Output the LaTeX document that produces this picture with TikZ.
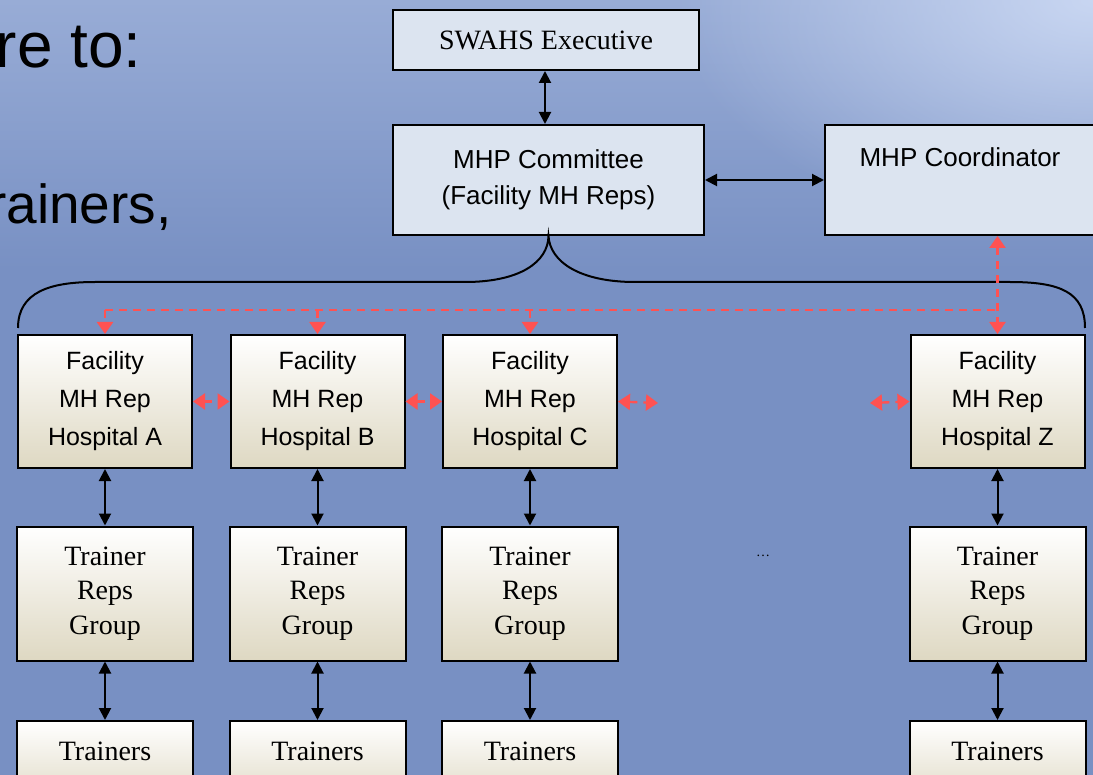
\documentclass[tikz,border=0pt]{standalone}
\usepackage{fontspec}
\setmainfont{Liberation Serif}
\newfontfamily\uisans{Liberation Sans}
\usetikzlibrary{arrows.meta,fadings}

\definecolor{bgmain}{RGB}{120,144,195}
\definecolor{bgtop}{RGB}{152,172,214}
\definecolor{glowc}{RGB}{206,219,245}
\definecolor{topfill}{RGB}{220,228,240}
\definecolor{beige}{RGB}{222,216,194}
\definecolor{linkred}{RGB}{255,82,82}

\tikzfading[name=glowfade, inner color=transparent!10, outer color=transparent!100]

\begin{document}
\begin{tikzpicture}[x=0.5pt,y=-0.5pt,
  frame/.style={draw=black, line width=1pt, inner sep=0pt},
  topbox/.style={frame, fill=topfill, align=center,
    font=\uisans\fontsize{13}{18}\selectfont},
  repbox/.style={frame, top color=white, bottom color=beige, align=center,
    minimum width=87pt, minimum height=66.5pt,
    font=\uisans\fontsize{12.5}{19}\selectfont},
  grpbox/.style={frame, top color=white, bottom color=beige, align=center,
    minimum width=88pt, minimum height=67pt,
    font=\fontsize{14}{17.3}\selectfont},
  trnbox/.style={frame, top color=white, bottom color=beige!70!white, align=center,
    minimum width=88pt, minimum height=30pt,
    font=\fontsize{14}{17}\selectfont},
  link/.style={draw=black, line width=1pt,
    {Triangle[width=6pt,length=6pt]}-{Triangle[width=6pt,length=6pt]}},
  redlink/.style={draw=linkred, line width=1.2pt, dash pattern=on 4pt off 3pt},
  redtip/.style={redlink, -{Triangle[width=8pt,length=6pt]}},
  redboth/.style={redlink,
    {Triangle[width=8pt,length=6pt]}-{Triangle[width=8pt,length=6pt]}},
  slidetext/.style={anchor=base east, inner sep=0pt, text=black}
]
\useasboundingbox (0,0) rectangle (1093,775);
\clip (0,0) rectangle (1093,775);

% slide background
\fill[bgmain] (0,0) rectangle (1093,775);
\shade[top color=bgtop, bottom color=bgmain] (0,0) rectangle (1093,270);
\fill[glowc, path fading=glowfade] (1093,0) ellipse (420 and 240);

% slide bullet text running in from the left
\node[slidetext, font=\uisans\fontsize{32}{36}\selectfont] (bul1) at (142,68) {re to:};
\node[slidetext, font=\uisans\fontsize{27.5}{32}\selectfont] (bul2) at (172,224) {rainers,};

% upper management level
\node[topbox, minimum width=153pt, minimum height=30pt, font=\fontsize{14}{17}\selectfont]
  (exec) at (546,40) {SWAHS Executive};
\node[topbox, minimum width=155.5pt, minimum height=55pt]
  (committee) at (548.5,180) {MHP Committee\\(Facility MH Reps)};
\node[topbox, minimum width=135pt, minimum height=55pt]
  (coord) at (960,180) {MHP Coordinator\\\strut};

\draw[link] (exec.south -| 545,0) -- (committee.north -| 545,0);
\draw[link] (committee.east) -- (coord.west);

% facility representatives
\node[repbox] (hA) at (105,401.5) {Facility\\MH Rep\\Hospital A};
\node[repbox] (hB) at (317.5,401.5) {Facility\\MH Rep\\Hospital B};
\node[repbox] (hC) at (530,401.5) {Facility\\MH Rep\\Hospital C};
\node[repbox] (hZ) at (997.5,401.5) {Facility\\MH Rep\\Hospital Z};

% trainer reps groups
\node[grpbox] (gA) at (105,593.5) {Trainer\\Reps\\Group};
\node[grpbox] (gB) at (317.5,593.5) {Trainer\\Reps\\Group};
\node[grpbox] (gC) at (530,593.5) {Trainer\\Reps\\Group};
\node[grpbox] (gZ) at (997.5,593.5) {Trainer\\Reps\\Group};

% trainers
\node[trnbox] (tA) at (105,751) {Trainers};
\node[trnbox] (tB) at (317.5,751) {Trainers};
\node[trnbox] (tC) at (530,751) {Trainers};
\node[trnbox] (tZ) at (997.5,751) {Trainers};

\node[font=\fontsize{7}{8}\selectfont, inner sep=0pt] (gap) at (763,556) {\dots};

% brace from the committee over all facilities
\coordinate (braceL) at (18,328);
\coordinate (braceR) at (1085,328);
\draw[black, line width=1pt]
  (braceL) .. controls (18,292) and (50,282) .. (95,282)
  -- (465,282) .. controls (520,282) and (548,262) .. (committee.south)
  .. controls (550,262) and (580,282) .. (635,282)
  -- (1010,282) .. controls (1060,282) and (1085,292) .. (braceR);

% vertical links down each column
\foreach \c in {A,B,C,Z}{
  \draw[link] (h\c.south) -- (g\c.north);
  \draw[link] (g\c.south) -- (t\c.north);
}

% coordinator network (dashed red)
\coordinate (bus) at (0,310);
\draw[redboth] (hZ.north |- coord.south) -- (hZ.north);
\draw[redlink] (hA.north |- bus) -- (hZ.north |- bus);
\foreach \c in {A,B,C}{
  \draw[redtip] (h\c.north |- bus) -- (h\c.north);
}
\coordinate (cRight) at (658,403);
\coordinate (zLeft) at (870,403);
\draw[redboth] (hA.east) -- (hB.west);
\draw[redboth] (hB.east) -- (hC.west);
\draw[redboth] (hC.east) -- (cRight);
\draw[redboth] (zLeft) -- (hZ.west);
\end{tikzpicture}
\end{document}
